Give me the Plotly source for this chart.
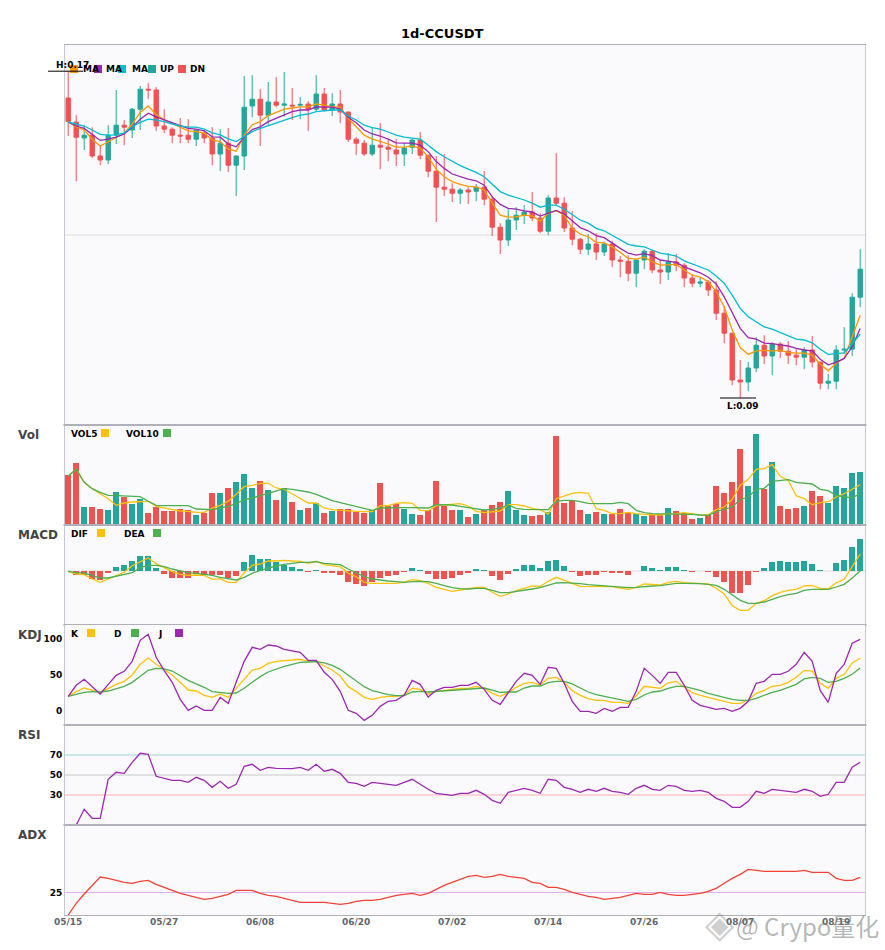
import numpy as np
import pandas as pd
import plotly.graph_objects as go
from plotly.subplots import make_subplots

# Daily bars, 05/15 onward
dates = list(pd.date_range("2024-05-15", periods=100).strftime("%m/%d"))
date_ticks = dates[::12]

# Prices in units of 0.0001 USDT
open_ = [1650,1590,1550,1557,1505,1495,1557,1582,1570,1622,
         1672,1670,1580,1572,1557,1557,1547,1562,1550,1510,
         1537,1482,1505,1630,1647,1607,1640,1632,1632,1632,
         1635,1622,1660,1620,1635,1615,1547,1537,1510,1532,
         1527,1520,1510,1527,1545,1507,1467,1427,1422,1412,
         1420,1417,1427,1397,1327,1295,1345,1357,1365,1350,
         1317,1400,1387,1325,1297,1272,1285,1265,1285,1245,
         1242,1212,1245,1267,1220,1215,1240,1232,1200,1187,
         1190,1170,1112,1062,945,940,975,1032,1005,1035,
         1017,1007,1002,1020,990,937,942,1020,1022,1152]
high = [1717,1607,1582,1577,1530,1582,1670,1595,1625,1680,
        1687,1677,1622,1577,1600,1597,1570,1570,1577,1572,
        1575,1507,1705,1707,1672,1690,1702,1715,1675,1652,
        1642,1707,1675,1662,1670,1615,1552,1545,1575,1587,
        1545,1547,1537,1547,1565,1507,1505,1510,1437,1425,
        1427,1435,1467,1402,1337,1372,1377,1382,1415,1362,
        1407,1512,1402,1367,1300,1310,1312,1291,1293,1255,
        1257,1245,1272,1270,1245,1262,1260,1237,1210,1200,
        1195,1192,1130,1062,995,990,1052,1057,1040,1040,
        1042,1022,1027,1055,990,960,1032,1077,1162,1272]
low = [1555,1442,1520,1500,1482,1485,1535,1532,1550,1570,
       1647,1567,1562,1537,1537,1537,1530,1537,1482,1467,
       1465,1405,1470,1602,1530,1580,1627,1603,1595,1597,
       1567,1615,1617,1605,1587,1540,1507,1505,1505,1472,
       1492,1480,1480,1510,1497,1452,1340,1405,1390,1385,
       1385,1392,1382,1305,1260,1280,1320,1335,1342,1312,
       1307,1380,1315,1282,1260,1257,1245,1255,1227,1202,
       1192,1177,1222,1212,1185,1195,1217,1177,1177,1177,
       1155,1095,1037,932,900,917,965,985,957,1000,
       985,982,972,977,922,922,922,1010,1005,1127]
close = [1591,1552,1557,1505,1495,1557,1582,1577,1622,1672,
         1670,1580,1572,1557,1555,1547,1570,1550,1510,1537,
         1482,1505,1627,1647,1607,1640,1632,1635,1630,1634,
         1622,1660,1620,1635,1615,1547,1537,1510,1532,1527,
         1522,1510,1525,1545,1507,1467,1427,1422,1412,1420,
         1415,1427,1397,1327,1295,1345,1357,1365,1350,1317,
         1400,1387,1325,1297,1272,1285,1265,1285,1245,1242,
         1212,1245,1267,1220,1215,1240,1232,1200,1187,1190,
         1170,1112,1062,945,940,975,1032,1005,1035,1017,
         1007,1002,1020,990,937,942,1020,1022,1152,1222]
ma5 = [1590,1578,1570,1547,1530,1541,1553,1562,1585,1614,
       1630,1609,1595,1585,1577,1568,1566,1562,1545,1541,
       1522,1517,1557,1583,1591,1606,1614,1622,1625,1628,
       1628,1635,1632,1628,1628,1599,1578,1557,1548,1542,
       1535,1527,1527,1530,1524,1503,1472,1453,1441,1434,
       1429,1428,1420,1387,1357,1352,1353,1357,1355,1342,
       1362,1368,1357,1324,1310,1303,1289,1288,1278,1264,
       1249,1247,1252,1241,1232,1233,1234,1220,1207,1202,
       1191,1166,1128,1070,1026,1009,1018,1019,1018,1019,
       1014,1012,1012,1007,985,968,987,999,1053,1107]
ma10 = [1590,1580,1574,1560,1544,1547,1552,1560,1577,1597,
        1612,1603,1595,1587,1581,1574,1572,1568,1553,1552,
        1535,1528,1552,1571,1578,1591,1599,1607,1616,1620,
        1620,1628,1628,1627,1622,1602,1588,1570,1560,1555,
        1547,1538,1537,1537,1532,1516,1491,1474,1460,1453,
        1447,1443,1432,1403,1384,1374,1372,1368,1365,1355,
        1363,1369,1360,1342,1326,1318,1306,1301,1287,1274,
        1262,1257,1261,1256,1245,1242,1239,1228,1220,1213,
        1202,1185,1153,1112,1074,1051,1047,1037,1036,1033,
        1030,1024,1020,1018,997,983,989,999,1028,1074]
ma20 = [1590,1585,1580,1570,1559,1557,1558,1563,1578,1589,
        1597,1595,1591,1585,1580,1577,1577,1572,1563,1558,
        1548,1541,1553,1566,1574,1581,1588,1595,1601,1607,
        1610,1616,1618,1620,1620,1605,1595,1582,1576,1572,
        1565,1557,1552,1549,1547,1532,1516,1503,1491,1481,
        1472,1464,1453,1435,1416,1407,1401,1395,1387,1377,
        1382,1382,1372,1358,1345,1337,1324,1318,1307,1295,
        1284,1280,1278,1270,1262,1259,1255,1243,1235,1228,
        1220,1205,1187,1157,1124,1103,1091,1078,1072,1064,
        1057,1047,1045,1038,1022,1009,1011,1013,1035,1060]

volume = [49.7,61.7,17.7,17.7,15.7,14.7,32.7,27.7,20.7,25.7,
          11.7,17.7,13.7,13.7,15.7,14.7,9.7,11.7,31.7,31.7,
          36.7,42.7,50.7,36.7,43.7,34.7,24.7,36.7,22.7,14.7,
          16.7,21.7,11.7,13.7,15.7,15.7,12.7,11.7,14.7,41.7,
          18.7,20.7,15.7,10.7,9.7,14.7,43.7,18.7,14.7,14.7,
          7.7,10.7,14.7,19.7,22.7,33.7,14.7,9.7,8.7,9.7,
          12.7,88.7,21.7,23.7,14.7,10.7,12.7,10.7,10.7,15.7,
          11.7,10.7,8.7,9.7,10.7,16.7,13.7,11.7,5.7,6.7,
          9.7,38.7,31.7,42.7,75.7,38.7,90.7,35.7,62.7,18.7,
          15.7,16.7,18.7,33.7,28.7,21.7,38.7,36.7,51.7,52.7]
vol5 = [49,55.7,42.7,36.3,31.3,26.3,19.7,22,23,23.7,
        23.7,18.7,17.3,15.3,14,13.7,12.7,12.7,17,19.7,
        23.7,30.7,38.3,39.7,41.7,41.7,37,35.7,31.3,26.3,
        22,22,17,15.3,15,14.7,13.7,13.3,13.3,19.3,
        19.3,21.7,22.3,21.7,14.7,14.3,19.3,20,20.7,21.3,
        19,13.7,12.3,13,14,20.3,20.3,19,16.7,15.3,
        11,26.3,28.7,31.7,32.7,31.7,16.3,14.7,11.3,11.3,
        12.7,11.3,10.7,10.3,10,11.3,11.3,12.3,11.3,10,
        10.3,15.3,18,25.7,39.7,45.7,55.7,56.3,60.3,48.7,
        44.7,29.3,26.3,20.3,22.3,23.3,28,31.3,35.7,40.3]
vol10 = [49,55.7,42.7,36.3,32.7,29.7,29.3,29,28.3,28.3,
         23.7,19.7,19.3,19.3,19.3,19.3,16,15.3,15.3,17,
         18.7,21.3,25.3,27,29.3,31.7,33.3,36.3,35.7,34.7,
         33,30.7,27.3,24.3,22.3,20.3,18,16,14.7,17,
         17.3,17.7,17.3,17.3,17,17,20.3,20.3,20,18.7,
         17.3,15.7,15,15.7,17,20,16.7,15.7,15.3,15.3,
         15.3,23.7,24.7,24.7,23.3,21.7,21.3,21.3,21.3,22.7,
         21.3,14.7,12.3,11.3,11.3,11.3,11.3,11.3,10.7,10,
         9.7,13.3,15.3,18,25.3,28,35.7,36.7,43.7,44.7,
         45.3,42.7,42,41,35.7,34.3,29.7,28,27.3,31]

macd_hist = [0,-4,-4,-8,-9,-2,4,6,10,15,
             15,3,-3,-7,-7,-7,-3,-4,-4,-4,
             -7,-5,9,16,12,12,9,6,4,2,
             -0.7,1,-2,-2,-4,-11,-13,-15,-11,-7,
             -5,-4,-1,3,1,-3,-8,-8,-7,-4,
             -2,2,1,-5,-9,-3,2,6,6,3,
             10,11,5,-1,-5,-4,-4,-1,-2,-2,
             -4,0,5,3,1,4,4,1,-1,0,
             -1,-6,-11,-22,-22,-14,-1,3,9,10,
             9,9,10,7,1,0,8,11,24,32]
dif = [-0.3,-3,-3.7,-8,-11.3,-8,-4.3,-1.3,5.3,9.3,
       13,7.3,3.7,-0.7,-3.3,-4.3,-4,-4.3,-8.3,-7.7,
       -11.3,-11.3,-1.7,5.7,7,10,10,10.7,10,9.7,
       7.7,9.7,6.3,5.3,4.3,-2.3,-5.7,-11.3,-12.3,-12.3,
       -12.3,-12.3,-11,-8.7,-9.7,-12.3,-16.3,-18.3,-20.3,-19,
       -18,-16.3,-16.3,-21.3,-25.3,-23,-19.7,-17,-15,-15.3,
       -10.3,-6.3,-9,-12.3,-15.3,-15.3,-16,-15.3,-15.7,-17,
       -18.3,-16.3,-13,-13.3,-14,-11.3,-10.3,-11.7,-12.3,-12.3,
       -13,-17.3,-23,-34.7,-39.3,-39.3,-32.3,-29.7,-24.7,-21.3,
       -19.3,-18.3,-15,-14.3,-17.3,-18,-11.7,-8.3,4.3,17]
dea = [-0.3,-1.7,-2,-4.7,-7,-7,-5.3,-4,-1.7,3.3,
       5.7,5.7,4.3,2,0,-1.7,-2.3,-3,-4.3,-6.3,
       -8,-9,-6.3,-2.3,0.7,3,5,6.7,8,8.7,
       8.7,9.3,7.7,7,6.3,2,-2,-5.7,-8,-9.3,
       -10,-10.7,-11.3,-10.7,-10.3,-10.7,-12.3,-14.7,-16.7,-17.7,
       -18,-17.3,-17.3,-19.3,-21.7,-21.7,-20.7,-19.3,-18,-16.7,
       -14.3,-12,-11.7,-12,-12.7,-13.7,-14.3,-15,-15.3,-16.3,
       -16.7,-16.3,-15.3,-15,-14.7,-13.3,-12.3,-12.3,-12.3,-12.7,
       -13.3,-14.3,-18.3,-24,-29.3,-32.3,-32.3,-31,-28.3,-25.7,
       -23.7,-22.3,-19.3,-18.3,-18.3,-18.3,-16,-13.3,-7,0]

kdj_k = [19.7,26.3,31.4,28.1,25.3,30.5,36.6,40.8,49.7,64.7,
         73.6,64.7,57.7,49.7,39.4,28.6,27.2,21.1,18.3,23,
         18.3,31,45,56.7,59.1,66.1,68.9,69.9,71.8,71.8,
         68.9,68.9,62.4,56.7,48.3,33.3,26.3,18.3,15.5,18.3,
         19.7,19.7,21.6,31,29.5,23,26.7,28.1,30,31,
         31,33.8,31,23.9,19.7,24.9,32.4,38,39.4,35.6,
         45,46.4,39.4,27.7,21.1,16.4,14.1,14.1,11.3,11.3,
         9.8,20.2,33.8,32.4,31,38.5,40.8,32.4,24.9,21.1,
         18.3,15.5,12.7,9.8,9.8,14.5,23.9,28.1,33.8,35.2,
         39.4,46.4,56.3,55.3,38.5,31,45,50.7,66.6,73.2]
kdj_d = [19.7,22.5,25.3,26.3,25.8,27.2,31,33.8,39.4,48.3,
         56.3,59.1,58.2,55.3,48.8,42.2,37.1,32.4,26.3,25.3,
         23.9,24.4,31,39.4,47.4,53.9,58.2,61.9,64.7,67.5,
         68,68.5,66.6,63.3,57.7,49.2,41.7,33.3,27.7,24.4,
         22,20.6,20.6,25.8,26.7,25.8,26.7,27.7,28.6,28.6,
         30,31,31.4,28.6,25.3,25.8,25.8,31.4,34.2,34.2,
         38.9,40.8,40.8,37.1,31.4,25.8,22,19.7,17.4,15.5,
         12.7,15.5,21.6,25.8,27.2,31,33.8,33.8,31,28.1,
         23.9,21.1,18.3,15.5,14.1,14.1,16.9,21.1,25.3,28.1,
         32.4,36.6,44.1,46.4,45,39.4,40.8,45,50.7,59.6]
kdj_j = [19.7,35.2,43.6,33.3,23,36.6,49.2,54.9,68.9,98.5,
         106.9,74.6,55.8,39.4,15.5,0,6.1,0,0,18.3,
         9.8,39.4,68.9,88.6,85.8,91.9,90.5,85.8,84,81.6,
         70.4,70.4,53.5,43.6,26.7,0,-4.2,-14.1,-7,5.6,
         12.7,14.1,21.6,42.2,36.6,18.8,28.1,32.4,32.4,35.2,
         35.2,39.4,29.5,14.1,8.4,23.9,40.8,52.1,49.2,36.6,
         60.5,59.1,38,12.7,-1.4,-1.4,-4.2,2.8,-1.4,4.2,
         4.2,26.7,59.1,49.2,38,53.5,53.5,35.2,14.1,7,
         4.2,1.4,2.8,-1.4,2.8,12.7,38,40.8,50.7,50.7,
         54.9,64.7,81.6,68.9,28.1,11.3,52.1,64.7,94.3,99.9]

rsi = [None,0,15.7,6.7,6.7,45.7,52.7,51.7,62.7,71.7,
       70.7,48.7,46.7,44.7,44.7,42.7,47.7,44.7,37.7,43.7,
       36.7,40.7,58.7,60.7,54.7,57.7,56.7,56.7,56.3,57.7,
       54.7,60.7,53.7,55.7,51.7,42.7,41.7,38.7,42.7,41.7,
       40.7,39.7,42.7,45.7,40.7,35.7,31.7,30.7,29.7,31.7,
       31.7,34.7,30.7,24.7,21.7,32.7,34.7,36.7,34.7,31.7,
       45.7,44.7,37.7,35.7,32.7,35.7,33.7,36.7,33.7,32.7,
       30.7,36.7,39.7,35.7,34.7,39.7,38.7,34.7,33.7,34.7,
       32.7,26.7,23.7,17.7,17.7,23.7,33.7,31.7,35.7,34.7,
       33.7,32.7,35.7,33.7,28.7,30.7,42.7,42.7,57.7,62.7]
adx = [0,13,23.3,32.6,42.2,40.7,38.5,36.3,35.2,37.4,
       38.5,34.1,30.7,27.4,24.1,21.9,19.6,17.4,18.5,20.7,
       23,27.4,27.4,27.4,24.1,21.9,20.7,18.5,16.3,14.1,
       14.1,14.1,14.1,13,11.9,13,15.2,16.3,16.3,17.4,
       19.6,21.9,23,24.1,21.9,24.1,28.5,33,36.3,39.6,
       43,44.1,41.9,43,45.2,43,41.9,40.7,36.3,35.2,
       30.7,30.7,28.5,25.2,23,20.7,19.6,17.4,18.5,19.6,
       21.9,24.1,23,23,25.2,23,21.9,21.9,23,24.1,
       26.3,29.6,35.2,40.7,45.2,50.7,49.6,48.5,48.5,48.5,
       48.5,48.5,49.6,47.4,47.4,47.4,40.7,38.5,38.5,41.9]

UP = "#26a69a"
DN = "#ef5350"
YELLOW = "#ffc107"
GREEN = "#4caf50"
PURPLE = "#9c27b0"
FONT = "DejaVu Sans"
W, H = 885, 950
LEFT, RIGHT, TOP, BOTTOM = 65, 865, 45, 915


def px(x):
    # page pixel to paper fraction
    return (x - LEFT) / (RIGHT - LEFT)


def py(y):
    return (BOTTOM - y) / (BOTTOM - TOP)


def add_line(fig, y, color, row, name):
    fig.add_trace(go.Scatter(x=dates, y=y, mode="lines", name=name, hoverinfo="skip",
                             line=dict(color=color, width=1.3)), row=row, col=1)


fig = make_subplots(rows=6, cols=1, shared_xaxes=True, vertical_spacing=0,
                    row_heights=[380, 100, 100, 100, 100, 90])

o, h, l, c = [np.array(s) * 1e-4 for s in (open_, high, low, close)]
fig.add_trace(go.Candlestick(x=dates, open=o, high=h, low=l, close=c, whiskerwidth=0, hoverinfo="skip",
                             increasing=dict(line=dict(color=UP, width=1), fillcolor=UP),
                             decreasing=dict(line=dict(color=DN, width=1), fillcolor=DN)), row=1, col=1)
add_line(fig, np.array(ma5) * 1e-4, "#ff9800", 1, "MA5")
add_line(fig, np.array(ma10) * 1e-4, PURPLE, 1, "MA10")
add_line(fig, np.array(ma20) * 1e-4, "#00bcd4", 1, "MA20")

vol_colors = [UP if b >= a else DN for a, b in zip(open_, close)]
fig.add_trace(go.Bar(x=dates, y=volume, width=0.75, marker=dict(color=vol_colors, line_width=0),
                     hoverinfo="skip"), row=2, col=1)
add_line(fig, vol5, YELLOW, 2, "VOL5")
add_line(fig, vol10, GREEN, 2, "VOL10")

hist_colors = [UP if v >= 0 else DN for v in macd_hist]
fig.add_trace(go.Bar(x=dates, y=macd_hist, width=0.75, marker=dict(color=hist_colors, line_width=0),
                     hoverinfo="skip"), row=3, col=1)
add_line(fig, dif, YELLOW, 3, "DIF")
add_line(fig, dea, GREEN, 3, "DEA")

add_line(fig, kdj_k, YELLOW, 4, "K")
add_line(fig, kdj_d, GREEN, 4, "D")
add_line(fig, kdj_j, PURPLE, 4, "J")
add_line(fig, rsi, PURPLE, 5, "RSI")
add_line(fig, adx, "#f44336", 6, "ADX")

# Reference lines per panel
ref_lines = [(1, 0.13075, "#dcdcdc"), (3, 0, "#dcdcdc"),
             (4, 100, "#9fd5cf"), (4, 50, "#c8c8c8"), (4, 0, "#ffb0b0"),
             (5, 70, "#9fd5cf"), (5, 50, "#c8c8c8"), (5, 30, "#ffb0b0"),
             (6, 25, "#e0b0ec")]
for row, val, color in ref_lines:
    ax = "" if row == 1 else str(row)
    fig.add_shape(type="line", xref=f"x{ax} domain", yref=f"y{ax}", x0=0, x1=1, y0=val, y1=val,
                  line=dict(color=color, width=1), layer="below")

fig.update_xaxes(type="category", range=[-0.4, 99.6], rangeslider_visible=False, showgrid=False,
                 showline=True, mirror=True, linecolor="#b0b0b8", linewidth=1, ticks="", zeroline=False)
fig.update_xaxes(tickmode="array", tickvals=date_ticks, ticktext=date_ticks, showticklabels=True,
                 ticklabelstandoff=-2,
                 tickfont=dict(family=FONT, size=9, color="#666666", weight=700), row=6, col=1)
fig.update_yaxes(showgrid=False, zeroline=False, showline=True, mirror=True, linecolor="#c8c8d2", linewidth=1,
                 showticklabels=False, ticks="")
tick_font = dict(family=FONT, size=9, color="#000000", weight=700)
fig.update_yaxes(range=[0.08325, 0.17825], row=1, col=1)
fig.update_yaxes(range=[0, 100], row=2, col=1)
fig.update_yaxes(range=[-54, 46], row=3, col=1)
fig.update_yaxes(range=[-20.6, 120], tickmode="array", tickvals=[0, 50, 100], showticklabels=True,
                 tickfont=tick_font, row=4, col=1)
fig.update_yaxes(range=[0, 100], tickmode="array", tickvals=[30, 50, 70], showticklabels=True,
                 tickfont=tick_font, row=5, col=1)
fig.update_yaxes(range=[0, 100], tickmode="array", tickvals=[25], showticklabels=True,
                 tickfont=tick_font, row=6, col=1)

annotations = []
shapes = []


def text(x, y, s, size=9, color="#000000", bold=True, anchor="left", family=FONT):
    annotations.append(dict(xref="paper", yref="paper", x=px(x), y=py(y), text=s, showarrow=False,
                            xanchor=anchor, yanchor="middle", borderpad=0,
                            font=dict(family=family, size=size, color=color, weight=700 if bold else 400)))


def swatch(x, y, color):
    shapes.append(dict(type="rect", xref="paper", yref="paper", x0=px(x), x1=px(x + 8), y0=py(y), y1=py(y + 8),
                       fillcolor=color, line_width=0, layer="above"))


# Panel captions
for caption, y in [("Vol", 435), ("MACD", 535), ("KDJ", 635), ("RSI", 735), ("ADX", 835)]:
    text(17, y, caption, size=12, color="#444444")

# Hand-placed legends
for x, s in [(82, "MA"), (105, "MA"), (131, "MA"), (159, "UP"), (189, "DN")]:
    text(x, 69, s)
for x, color in [(70, "#ff9800"), (94, PURPLE), (118, "#00bcd4"), (148, UP), (178, DN)]:
    swatch(x, 65, color)
for x, s in [(70, "VOL5"), (125, "VOL10")]:
    text(x, 434, s)
for x, color in [(101, YELLOW), (163, GREEN)]:
    swatch(x, 429, color)
for x, s in [(70, "DIF"), (123, "DEA")]:
    text(x, 534, s)
for x, color in [(97, YELLOW), (153, GREEN)]:
    swatch(x, 529, color)
for x, s in [(70, "K"), (113, "D"), (157, "J")]:
    text(x, 634, s)
for x, color in [(87, YELLOW), (131, GREEN), (175, PURPLE)]:
    swatch(x, 629, color)

# High / low markers
shapes.append(dict(type="line", xref="paper", yref="y", x0=px(48), x1=px(83), y0=max(high) * 1e-4, y1=max(high) * 1e-4,
                   line=dict(color="#000000", width=1), layer="above"))
shapes.append(dict(type="line", xref="paper", yref="y", x0=px(720), x1=px(756), y0=min(low) * 1e-4, y1=min(low) * 1e-4,
                   line=dict(color="#000000", width=1), layer="above"))
text(72, 65, "H:0.17", anchor="center")
text(743, 406, "L:0.09", anchor="center")

text(442, 34, "1d-CCUSDT", size=13, anchor="center")

# Little ticks where the panels meet
for y in (425, 525, 625, 725, 825):
    for x0, x1 in ((63, 65), (865, 867)):
        shapes.append(dict(type="line", xref="paper", yref="paper", x0=px(x0), x1=px(x1), y0=py(y), y1=py(y),
                           line=dict(color="#b0b0b8", width=1), layer="above"))

# Watermark
text(720, 924, "◈", size=38, color="rgba(130,130,130,0.4)", bold=False, anchor="center")
text(735, 925, "@ Crypo量化", size=24, color="rgba(120,120,120,0.55)", bold=False, family="Noto Sans CJK SC")

for s in shapes:
    fig.add_shape(**s)
fig.update_layout(annotations=annotations, width=W, height=H, showlegend=False, bargap=0, boxgap=0.22,
                  paper_bgcolor="#ffffff", plot_bgcolor="#fafafc",
                  margin=dict(l=LEFT, r=W - RIGHT, t=TOP, b=H - BOTTOM, pad=0))

fig.write_html("out.html", config=dict(displayModeBar=False),
               post_script="document.body.style.margin='0';document.body.style.overflow='hidden';")
